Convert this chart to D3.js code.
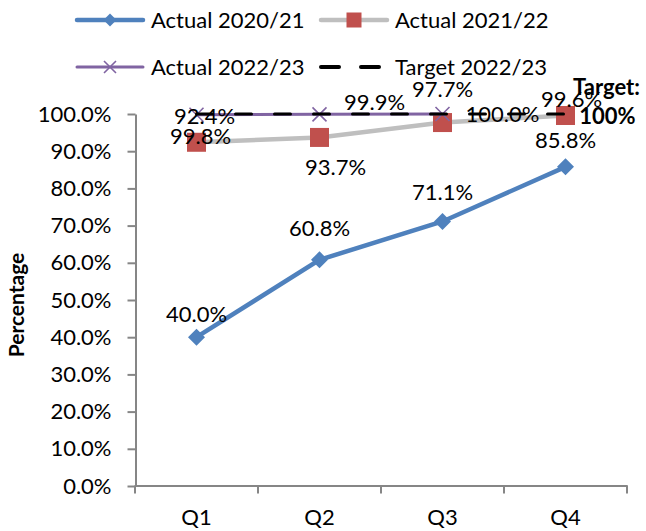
<!DOCTYPE html>
<html><head><meta charset="utf-8">
<script src="https://cdn.jsdelivr.net/npm/d3@7"></script>
<style>body{margin:0;background:#fff}svg{display:block}</style>
</head><body><svg id="c" width="646" height="531"></svg>
<script>
// ---- data ----
const categories = ["Q1", "Q2", "Q3", "Q4"];
const actual2020 = [40.0, 60.8, 71.1, 85.8];
const actual2021 = [92.4, 93.7, 97.7, 99.6];
const actual2022 = [99.8, 99.9, 100.0, null];
const target2022 = [100, 100, 100, 100];
const yTicks = [0, 10, 20, 30, 40, 50, 60, 70, 80, 90, 100];
const seriesNames = ["Actual 2020/21", "Actual 2021/22", "Actual 2022/23", "Target 2022/23"];
const yTitle = "Percentage";
const targetLabel = ["Target:", "100%"];

// ---- style ----
const FONT = "Lato, 'Open Sans', sans-serif";
const FS = 22;
const labelOffsets = {
  a2020: [[0, -23], [0, -32], [0, -29], [0, -27]],
  a2021: [[8, -26], [16, 30], [0, -33], [6, -16]],
  a2022: [[4, 22], [55, -12], [60, 0], [0, 0]]
};

const svg = d3.select("#c");
const x = d3.scaleBand().domain(categories).range([135, 627]);
const y = d3.scaleLinear().domain([0, 100]).range([486, 114]);
const cx = c => x(c) + x.bandwidth() / 2;
const axisColor = "#868686";

// y axis
const ya = svg.append("g").attr("transform", "translate(135.5,0)")
  .call(d3.axisLeft(y).tickValues(yTicks).tickFormat(d => d.toFixed(1) + "%").tickSize(8).tickPadding(16).tickSizeOuter(0));
ya.select(".domain").attr("stroke", axisColor).attr("stroke-width", 2);
ya.selectAll(".tick line").attr("stroke", axisColor).attr("stroke-width", 2);
ya.selectAll(".tick text").attr("font-family", FONT).attr("font-size", FS).attr("fill", "#000");

// x axis
const xa = svg.append("g").attr("transform", "translate(0,485.5)")
  .call(d3.axisBottom(x).tickSize(0).tickSizeOuter(0));
xa.select(".domain").attr("stroke", axisColor).attr("stroke-width", 2);
xa.selectAll(".tick text").attr("font-family", FONT).attr("font-size", FS).attr("fill", "#000")
  .attr("y", 32).attr("dy", "0.35em");
const bounds = categories.map(c => x(c)).concat([x.range()[1]]);
xa.selectAll(".bt").data(bounds).enter().append("line")
  .attr("x1", d => d).attr("x2", d => d).attr("y1", 0).attr("y2", 8)
  .attr("stroke", axisColor).attr("stroke-width", 2);

// y title
svg.append("text").attr("transform", "translate(17,305) rotate(-90)")
  .attr("text-anchor", "middle").attr("dy", "0.35em")
  .attr("font-family", FONT).attr("font-size", 21).attr("font-weight", "bold").text(yTitle);

// markers
const diamond = r => `M0,${-r}L${r},0L0,${r}L${-r},0Z`;
function drawMarker(g, type, px, py, s) {
  if (type === "diamond") g.append("path").attr("d", diamond(s)).attr("transform", `translate(${px},${py})`).attr("fill", "#4F81BD");
  else if (type === "square") g.append("rect").attr("x", px - s).attr("y", py - s).attr("width", 2 * s).attr("height", 2 * s).attr("fill", "#C0504D");
  else if (type === "x") g.append("path").attr("d", `M${-s},${-s}L${s},${s}M${-s},${s}L${s},${-s}`)
    .attr("transform", `translate(${px},${py})`).attr("stroke", "#8064A2").attr("stroke-width", 1.6).attr("fill", "none");
}

const series = [
  { key: "a2020", values: actual2020, color: "#4F81BD", width: 4.5, marker: "diamond", ms: 8.5 },
  { key: "a2021", values: actual2021, color: "#BFBFBF", width: 4.5, marker: "square", ms: 9.5 },
  { key: "a2022", values: actual2022, color: "#8064A2", width: 3, marker: "x", ms: 7 },
  { key: "t2022", values: target2022, color: "#000", width: 3, marker: null, dash: "16,23" }
];

const line = d3.line().defined(d => d.v != null).x(d => cx(d.c)).y(d => y(d.v));
const plot = svg.append("g");
series.forEach(s => {
  const pts = categories.map((c, i) => ({ c, v: s.values[i] }));
  const p = plot.append("path").datum(pts).attr("d", line).attr("fill", "none")
    .attr("stroke", s.color).attr("stroke-width", s.width);
  if (s.dash) p.attr("stroke-dasharray", s.dash).attr("stroke-linecap", "round");
  if (s.marker) pts.filter(d => d.v != null).forEach(d => drawMarker(plot, s.marker, cx(d.c), y(d.v), s.ms));
});

// data labels
const labels = svg.append("g").attr("font-family", FONT).attr("font-size", FS).attr("text-anchor", "middle");
series.filter(s => labelOffsets[s.key]).forEach(s => {
  s.values.forEach((v, i) => {
    if (v == null) return;
    const o = labelOffsets[s.key][i];
    labels.append("text").attr("x", cx(categories[i]) + o[0]).attr("y", y(v) + o[1]).attr("dy", "0.35em")
      .text(v.toFixed(1) + "%");
  });
});
const last = categories.length - 1;
labels.append("text").attr("x", cx(categories[last]) + 41).attr("y", y(target2022[last]) - 27).attr("dy", "0.35em")
  .attr("font-weight", "bold").text(targetLabel[0]);
labels.append("text").attr("x", cx(categories[last]) + 42).attr("y", y(target2022[last]) + 2).attr("dy", "0.35em")
  .attr("font-weight", "bold").text(targetLabel[1]);

// legend
const legend = svg.append("g").attr("font-family", FONT).attr("font-size", FS);
const legPos = [[75, 20], [319, 20], [75, 67], [319, 67]];
series.forEach((s, i) => {
  const [lx, ly] = legPos[i];
  const g = legend.append("g");
  if (s.dash) {
    g.append("line").attr("x1", lx + 2).attr("x2", lx + 66).attr("y1", ly).attr("y2", ly)
      .attr("stroke", s.color).attr("stroke-width", s.width + 1).attr("stroke-dasharray", "18,22").attr("stroke-linecap", "round");
  } else {
    g.append("line").attr("x1", lx + 2).attr("x2", lx + 68).attr("y1", ly).attr("y2", ly)
      .attr("stroke", s.color).attr("stroke-width", s.width).attr("stroke-linecap", "round");
    drawMarker(g, s.marker, lx + 35, ly, s.marker === "diamond" ? 6.5 : (s.marker === "square" ? 7.5 : 6));
  }
  g.append("text").attr("x", lx + 76).attr("y", ly).attr("dy", "0.35em").text(seriesNames[i]);
});
</script></body></html>
